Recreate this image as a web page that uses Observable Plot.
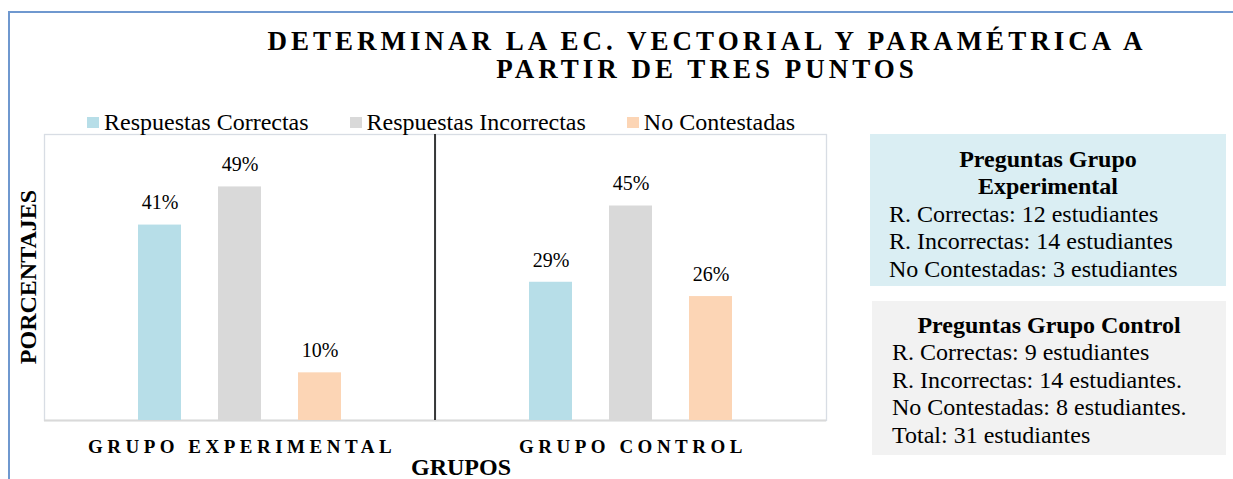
<!DOCTYPE html>
<html>
<head>
<meta charset="utf-8">
<script src="https://cdn.jsdelivr.net/npm/d3@7"></script>
<script src="https://cdn.jsdelivr.net/npm/@observablehq/plot@0.6"></script>
<style>
  html, body { margin: 0; padding: 0; background: #fff; }
  body { font-family: "Liberation Serif", "Times New Roman", serif; color: #000; }
  #wrap { position: relative; width: 1233px; height: 479px; overflow: hidden; background: #fff; }
  #wrap > * { position: absolute; }
  #borderTop { left: 8px; top: 11px; width: 1225px; height: 0; border-top: 2px solid #6f98cf; }
  #borderLeft { left: 8px; top: 11px; width: 0; height: 468px; border-left: 2px solid #6f98cf; }
  #chart { left: 0; top: 0; }
  #title { left: 205px; top: 27px; width: 1000px; text-align: center; font-weight: bold;
           font-size: 27px; line-height: 28px; letter-spacing: 4px; padding-left: 4px; box-sizing: border-box; }
  #legend { left: 87px; top: 107px; height: 30px; display: flex; align-items: center; gap: 41px; font-size: 24px; }
  #legend .item { display: flex; align-items: center; }
  #legend .sw { width: 12px; height: 11px; margin-right: 5px; }
  #ytitle { left: -122px; top: 262px; width: 300px; height: 30px; line-height: 30px; text-align: center;
            font-weight: bold; font-size: 24px; transform: rotate(-90deg); }
  #xtitle { left: 361px; top: 452px; width: 200px; line-height: 30px; text-align: center; font-weight: bold; font-size: 24px; }
  .box { font-size: 24px; line-height: 27.5px; box-sizing: border-box; }
  .box .bt { font-weight: bold; text-align: center; }
  #box1 { left: 870px; top: 134px; width: 356px; height: 152px; background: #daeef3; padding: 11.5px 0 0 19px; }
  #box1 .bt { margin-left: -19px; }
  #box2 { left: 872px; top: 301px; width: 354px; height: 154px; background: #f2f2f2; padding: 10.5px 0 0 20px; }
  #box2 .bt { margin-left: -20px; }
</style>
</head>
<body>
<div id="wrap">
  <div id="borderTop"></div>
  <div id="borderLeft"></div>
  <div id="title">DETERMINAR LA EC. VECTORIAL Y PARAMÉTRICA A<br>PARTIR DE TRES PUNTOS</div>
  <div id="legend"></div>
  <div id="ytitle">PORCENTAJES</div>
  <div id="xtitle">GRUPOS</div>
  <div id="box1" class="box"></div>
  <div id="box2" class="box"></div>
</div>
<script>
// ---- Data ----
const grupos = ["GRUPO EXPERIMENTAL", "GRUPO CONTROL"];
const categorias = ["Respuestas Correctas", "Respuestas Incorrectas", "No Contestadas"];
const experimental = [41, 49, 10];
const control = [29, 45, 26];
const colores = ["#b7dee8", "#d9d9d9", "#fcd5b5"];

const cuadroExperimentalTitulo = ["Preguntas Grupo", "Experimental"];
const cuadroExperimental = [
  "R. Correctas: 12 estudiantes",
  "R. Incorrectas: 14 estudiantes",
  "No Contestadas: 3 estudiantes"
];
const cuadroControlTitulo = ["Preguntas Grupo Control"];
const cuadroControl = [
  "R. Correctas: 9 estudiantes",
  "R. Incorrectas: 14 estudiantes.",
  "No Contestadas: 8 estudiantes.",
  "Total: 31 estudiantes"
];

// ---- Table for Plot ----
const series = [experimental, control];
const tabla = [];
grupos.forEach((g, i) => categorias.forEach((c, j) => tabla.push({grupo: g, categoria: c, valor: series[i][j]})));

// ---- Legend ----
const legend = document.getElementById("legend");
categorias.forEach((c, j) => {
  const it = document.createElement("div");
  it.className = "item";
  const sw = document.createElement("span");
  sw.className = "sw";
  sw.style.background = colores[j];
  const tx = document.createElement("span");
  tx.textContent = c;
  it.append(sw, tx);
  legend.append(it);
});

// ---- Info boxes ----
function fillBox(id, titles, lines) {
  const el = document.getElementById(id);
  titles.forEach(t => { const d = document.createElement("div"); d.className = "bt"; d.textContent = t; el.append(d); });
  lines.forEach(t => { const d = document.createElement("div"); d.textContent = t; el.append(d); });
}
fillBox("box1", cuadroExperimentalTitulo, cuadroExperimental);
fillBox("box2", cuadroControlTitulo, cuadroControl);

// ---- Chart ----
const W = 1233, H = 479;
const chart = Plot.plot({
  width: W,
  height: H,
  marginLeft: 44,
  marginRight: 407,
  marginTop: 134,
  marginBottom: 59,
  style: {fontFamily: '"Liberation Serif", "Times New Roman", serif', fontSize: "20px", color: "#000", background: "transparent", overflow: "visible"},
  fx: {domain: grupos, padding: 0, axis: null},
  x: {domain: categorias, paddingInner: 0.466, paddingOuter: 1.16, axis: null},
  y: {domain: [0, 60], axis: null},
  color: {domain: categorias, range: colores},
  marks: [
    Plot.frame({stroke: "#d8dde4", strokeWidth: 1.3}),
    Plot.ruleY([0], {stroke: "#d9d9d9", strokeWidth: 2}),
    Plot.barY(tabla, {fx: "grupo", x: "categoria", y: "valor", fill: "categoria"}),
    Plot.text(tabla, {fx: "grupo", x: "categoria", y: "valor", text: d => d.valor + "%", dy: -22, fontSize: 20, fill: "#000"}),
    Plot.text(grupos, {fx: d => d, text: d => d, frameAnchor: "bottom", lineAnchor: "middle", dy: 26, dx: 2, fontSize: 19, fontWeight: "bold", fill: "#000"})
  ]
});
chart.id = "chart";
document.getElementById("wrap").prepend(chart);

// letter-spaced group labels
d3.select(chart).selectAll("text")
  .filter(function() { return grupos.includes(this.textContent); })
  .style("letter-spacing", "4.5px");

// divider between the two groups, placed with the chart's own scales
const fxs = chart.scale("fx");
const ys = chart.scale("y");
const xd = fxs.apply(grupos[1]);
d3.select(chart).append("line")
  .attr("x1", xd).attr("x2", xd)
  .attr("y1", ys.apply(60)).attr("y2", ys.apply(0))
  .attr("stroke", "#000").attr("stroke-width", 1.5);
</script>
</body>
</html>
